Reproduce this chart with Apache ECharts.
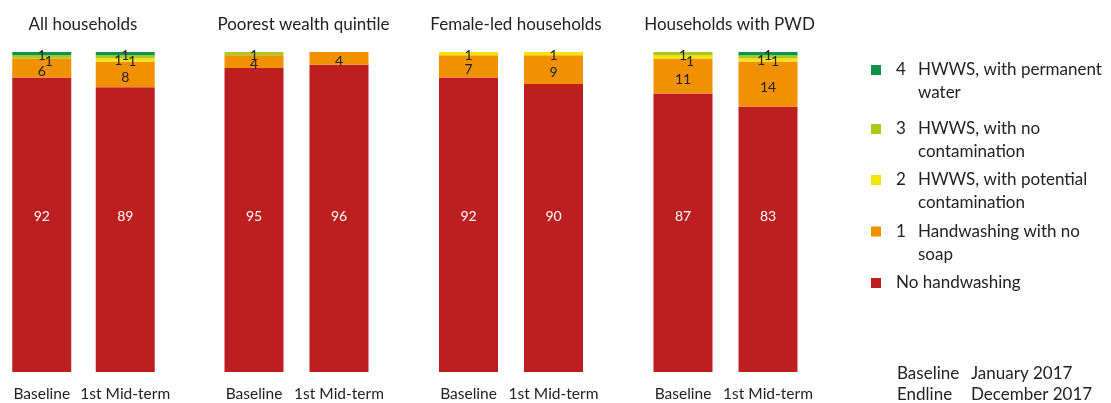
<!DOCTYPE html>
<html>
<head>
<meta charset="utf-8">
<script src="https://cdn.jsdelivr.net/npm/echarts@6/dist/echarts.min.js"></script>
<style>
  html, body { margin: 0; padding: 0; background: #fff; }
  #chart { width: 1111px; height: 403px; }
</style>
</head>
<body>
<div id="chart"></div>
<script>
// ---- Data ----
const groups = ['All households', 'Poorest wealth quintile', 'Female-led households', 'Households with PWD'];
const categories = ['Baseline', '1st Mid-term'];
// values per bar, group by group: [group0 Baseline, group0 Mid-term, group1 Baseline, ...]
const noHandwashing          = [92, 89, 95, 96, 92, 90, 87, 83];
const noSoap                 = [6, 8, 4, 4, 7, 9, 11, 14];
const potentialContamination = [0, 1, 0, 0, 1, 1, 1, 1];
const noContamination        = [1, 1, 1, 0, 0, 0, 1, 1];
const permanentWater         = [1, 1, 0, 0, 0, 0, 0, 1];
const seriesNames = [
  'No handwashing',
  '1 Handwashing with no soap',
  '2 HWWS, with potential contamination',
  '3 HWWS, with no contamination',
  '4 HWWS, with permanent water'
];
const noteLines = [['Baseline', 'January 2017'], ['Endline', 'December 2017']];

// ---- Styles ----
const FONT = 'Lato';
const colors = ['#bd1e1f', '#f29100', '#f4e600', '#aec81c', '#0e924a'];
const seriesValues = [noHandwashing, noSoap, potentialContamination, noContamination, permanentWater];
const smallRankOffsets = [[0, 2], [7, 5], [-7, 0]];

const gridLeft0 = -3, gridStep = 214.5, gridWidth = 170;
const titleShift = [-4, 2, 0, -1];
const grids = [], xAxes = [], yAxes = [], titles = [], series = [];

groups.forEach((g, gi) => {
  const left = gridLeft0 + gi * gridStep;
  grids.push({ left: left, width: gridWidth, top: 52, height: 320, containLabel: false });
  xAxes.push({
    type: 'category', gridIndex: gi, data: categories,
    axisLine: { show: false }, axisTick: { show: false },
    axisLabel: { fontFamily: FONT, fontSize: 15.5, color: '#222', margin: 14, interval: 0 }
  });
  yAxes.push({ type: 'value', gridIndex: gi, min: 0, max: 100, show: false, splitLine: { show: false } });
  titles.push({
    text: g, left: left + gridWidth / 2 + titleShift[gi], top: 11, textAlign: 'center',
    textStyle: { fontFamily: FONT, fontSize: 17, fontWeight: 'normal', color: '#222' }
  });

  seriesValues.forEach((vals, si) => {
    const data = categories.map((c, ci) => {
      const idx = gi * 2 + ci;
      const v = vals[idx];
      const item = { value: v };
      if (si >= 2) {
        // rank among visible small segments, from top
        const order = [4, 3, 2].filter(k => seriesValues[k][idx] > 0);
        const rank = order.indexOf(si);
        if (rank >= 0) item.label = { offset: smallRankOffsets[rank] };
      }
      return item;
    });
    const s = {
      name: seriesNames[si], type: 'bar', stack: 'g' + gi,
      xAxisIndex: gi, yAxisIndex: gi, barWidth: 59,
      itemStyle: { color: colors[si] },
      data: data,
      label: {
        show: true, fontFamily: FONT, fontSize: 14, color: '#222',
        formatter: p => (p.value ? String(p.value) : '')
      },
      emphasis: { disabled: true }
    };
    if (si === 0) {
      s.label.color = '#fff';
      s.label.position = ['50%', '100%'];
      s.label.align = 'center';
      s.label.verticalAlign = 'middle';
      s.label.offset = [0, -156];
    } else if (si === 1) {
      s.label.position = 'inside';
      s.label.offset = [0, 3];
    } else {
      s.label.position = 'inside';
    }
    series.push(s);
  });
});

// ---- Legend (one component per entry, top to bottom) ----
const legendRich = {
  n: { fontFamily: FONT, fontSize: 17, color: '#222', width: 22, padding: [0, 0, 0, 10], lineHeight: 23 },
  t: { fontFamily: FONT, fontSize: 17, color: '#222', lineHeight: 23 },
  p: { fontFamily: FONT, fontSize: 17, color: '#222', padding: [0, 0, 0, 10], lineHeight: 23 }
};
const legendTexts = {
  '4 HWWS, with permanent water': '\n{n|4}{t|HWWS, with permanent}\n{n|}{t|water}',
  '3 HWWS, with no contamination': '\n{n|3}{t|HWWS, with no}\n{n|}{t|contamination}',
  '2 HWWS, with potential contamination': '\n{n|2}{t|HWWS, with potential}\n{n|}{t|contamination}',
  '1 Handwashing with no soap': '\n{n|1}{t|Handwashing with no}\n{n|}{t|soap}',
  'No handwashing': '{p|No handwashing}'
};
const legendOrder = [4, 3, 2, 1, 0];
const legendTops = [35.5, 94.5, 145.5, 197, 271.5];
const legends = legendOrder.map((si, k) => ({
  data: [seriesNames[si]],
  left: 871, top: legendTops[k], padding: 0,
  orient: 'vertical', icon: 'rect', itemWidth: 10, itemHeight: 10,
  selectedMode: false,
  formatter: name => legendTexts[name],
  textStyle: { fontFamily: FONT, fontSize: 17, color: '#222', lineHeight: 23, rich: legendRich }
}));

// ---- Note text ----
const graphic = [];
noteLines.forEach((pair, i) => {
  graphic.push({ type: 'text', left: 897, top: 365 + i * 21,
    style: { text: pair[0], font: '17px ' + FONT, fill: '#222' } });
  graphic.push({ type: 'text', left: 971, top: 365 + i * 21,
    style: { text: pair[1], font: '17px ' + FONT, fill: '#222' } });
});

const chart = echarts.init(document.getElementById('chart'), null, { renderer: 'canvas' });
chart.setOption({
  backgroundColor: '#fff',
  animation: false,
  title: titles,
  grid: grids,
  xAxis: xAxes,
  yAxis: yAxes,
  legend: legends,
  graphic: graphic,
  series: series
});
</script>
</body>
</html>
